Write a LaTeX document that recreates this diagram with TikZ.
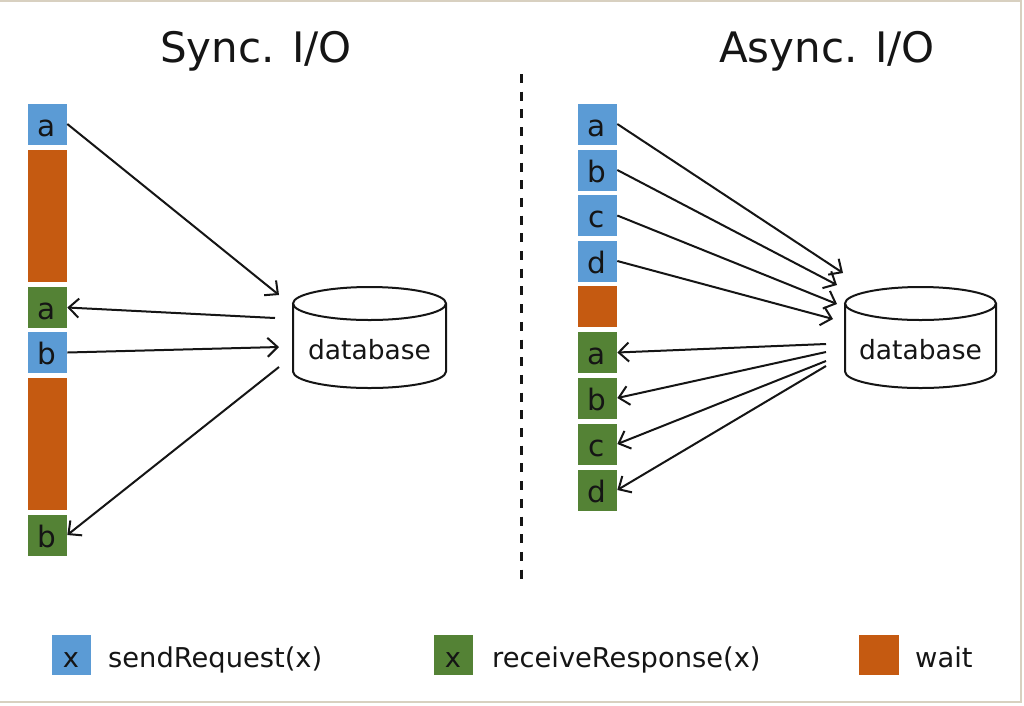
\documentclass[tikz,border=0pt]{standalone}
\usepackage{fontspec}
\setmainfont{DejaVu Sans}
\usetikzlibrary{arrows.meta}
\definecolor{bblue}{HTML}{5B9BD5}
\definecolor{bgreen}{HTML}{548235}
\definecolor{borange}{HTML}{C55A11}
\definecolor{framec}{HTML}{D8D0C0}
\definecolor{inkc}{HTML}{151515}
\tikzset{
  blk/.style={minimum width=40pt, minimum height=42pt, inner sep=0pt, draw=white, line width=0.6pt,
              text height=33pt, text depth=9pt,
              font=\fontsize{29.5}{30}\selectfont, text=inkc},
  snd/.style={blk, fill=bblue},
  rcv/.style={blk, fill=bgreen},
  wt/.style={blk, fill=borange},
  conn/.style={line width=2pt, draw=inkc, -{Straight Barb[length=10pt,width=19pt,line width=2pt]}},
  dbline/.style={line width=2pt, draw=inkc},
  dbtext/.style={inner sep=0pt, font=\fontsize{26.5}{27}\selectfont, text=inkc},
  titletext/.style={inner sep=0pt, anchor=base, font=\fontsize{42}{42}\selectfont, text=inkc},
  legtext/.style={inner sep=0pt, anchor=base west, font=\fontsize{27.3}{28}\selectfont, text=inkc},
  legbox/.style={blk, minimum height=41pt, text height=33pt, text depth=8pt, font=\fontsize{27.3}{28}\selectfont},
  divider/.style={line width=3pt, draw=inkc, dash pattern=on 9pt off 8.7pt}
}
\begin{document}
\begin{tikzpicture}[x=1pt,y=-1pt]
\useasboundingbox (0,0) rectangle (1024,705);
\fill[white] (0,0) rectangle (1024,705);
\draw[framec, line width=2pt] (0,1) -- (1021,1) -- (1021,702) -- (0,702);

% titles
\node[titletext] (t1) at (256,62) {Sync. I/O};
\node[titletext] (t2) at (827,62) {Async. I/O};

% divider
\coordinate (dvt) at (521,74);
\coordinate (dvb) at (521,583);
\draw[divider] (dvt) -- (dvb);

% ---------- Sync column ----------
\node[snd] (sa1) at (47,124) {a};
\node[wt, minimum height=133pt, text height=0pt, text depth=0pt] (sw1) at (47,215.5) {};
\node[rcv] (ra1) at (47,307.5) {a};
\node[snd] (sb2) at (47,352.5) {b};
\node[wt, minimum height=133pt, text height=0pt, text depth=0pt] (sw2) at (47,443.5) {};
\node[rcv] (rb2) at (47,535) {b};

% sync database
\node[dbtext] (db1) at (369.5,350) {database};
\draw[dbline] (369.5,303.5) ellipse[x radius=76.5, y radius=16.5];
\draw[dbline] (293,303.5) -- (293,371.5) arc[start angle=180, end angle=0, x radius=76.5, y radius=16.5] -- (446,303.5);

\coordinate (s1in) at (279,295);
\coordinate (s1out) at (275,318);
\coordinate (s2in) at (279,347);
\coordinate (s2out) at (279,367);
\draw[conn] (sa1.east) -- (s1in);
\draw[conn] (s1out) -- (ra1.east);
\draw[conn] (sb2.east) -- (s2in);
\draw[conn] (s2out) -- (rb2.east);

% ---------- Async column ----------
\node[snd] (aa) at (597,124) {a};
\node[snd] (ab) at (597,170) {b};
\node[snd] (ac) at (597,215.5) {c};
\node[snd] (ad) at (597,261) {d};
\node[wt] (aw) at (597,306.5) {};
\node[rcv] (ga) at (597,352.5) {a};
\node[rcv] (gb) at (597,398) {b};
\node[rcv] (gc) at (597,444) {c};
\node[rcv] (gd) at (597,490) {d};

% async database
\node[dbtext] (db2) at (920.5,350) {database};
\draw[dbline] (920.5,303.5) ellipse[x radius=75.5, y radius=16.5];
\draw[dbline] (845,303.5) -- (845,371.5) arc[start angle=180, end angle=0, x radius=75.5, y radius=16.5] -- (996,303.5);

\coordinate (ain1) at (843,273);
\coordinate (ain2) at (837,285);
\coordinate (ain3) at (837,304);
\coordinate (ain4) at (833,319);
\coordinate (aout1) at (826,344);
\coordinate (aout2) at (826,352);
\coordinate (aout3) at (826,361);
\coordinate (aout4) at (826,366);
\draw[conn] (aa.east) -- (ain1);
\draw[conn] (ab.east) -- (ain2);
\draw[conn] (ac.east) -- (ain3);
\draw[conn] (ad.east) -- (ain4);
\draw[conn] (aout1) -- (ga.east);
\draw[conn] (aout2) -- (gb.east);
\draw[conn] (aout3) -- (gc.east);
\draw[conn] (aout4) -- (gd.east);

% ---------- Legend ----------
\node[legbox, fill=bblue] (l1) at (71,654.5) {x};
\node[legtext] (l1t) at (108,667) {sendRequest(x)};
\node[legbox, fill=bgreen] (l2) at (453,654.5) {x};
\node[legtext] (l2t) at (492,667) {receiveResponse(x)};
\node[legbox, fill=borange, minimum width=41pt, text height=0pt, text depth=0pt] (l3) at (878.5,654.5) {};
\node[legtext] (l3t) at (915,667) {wait};
\end{tikzpicture}
\end{document}
